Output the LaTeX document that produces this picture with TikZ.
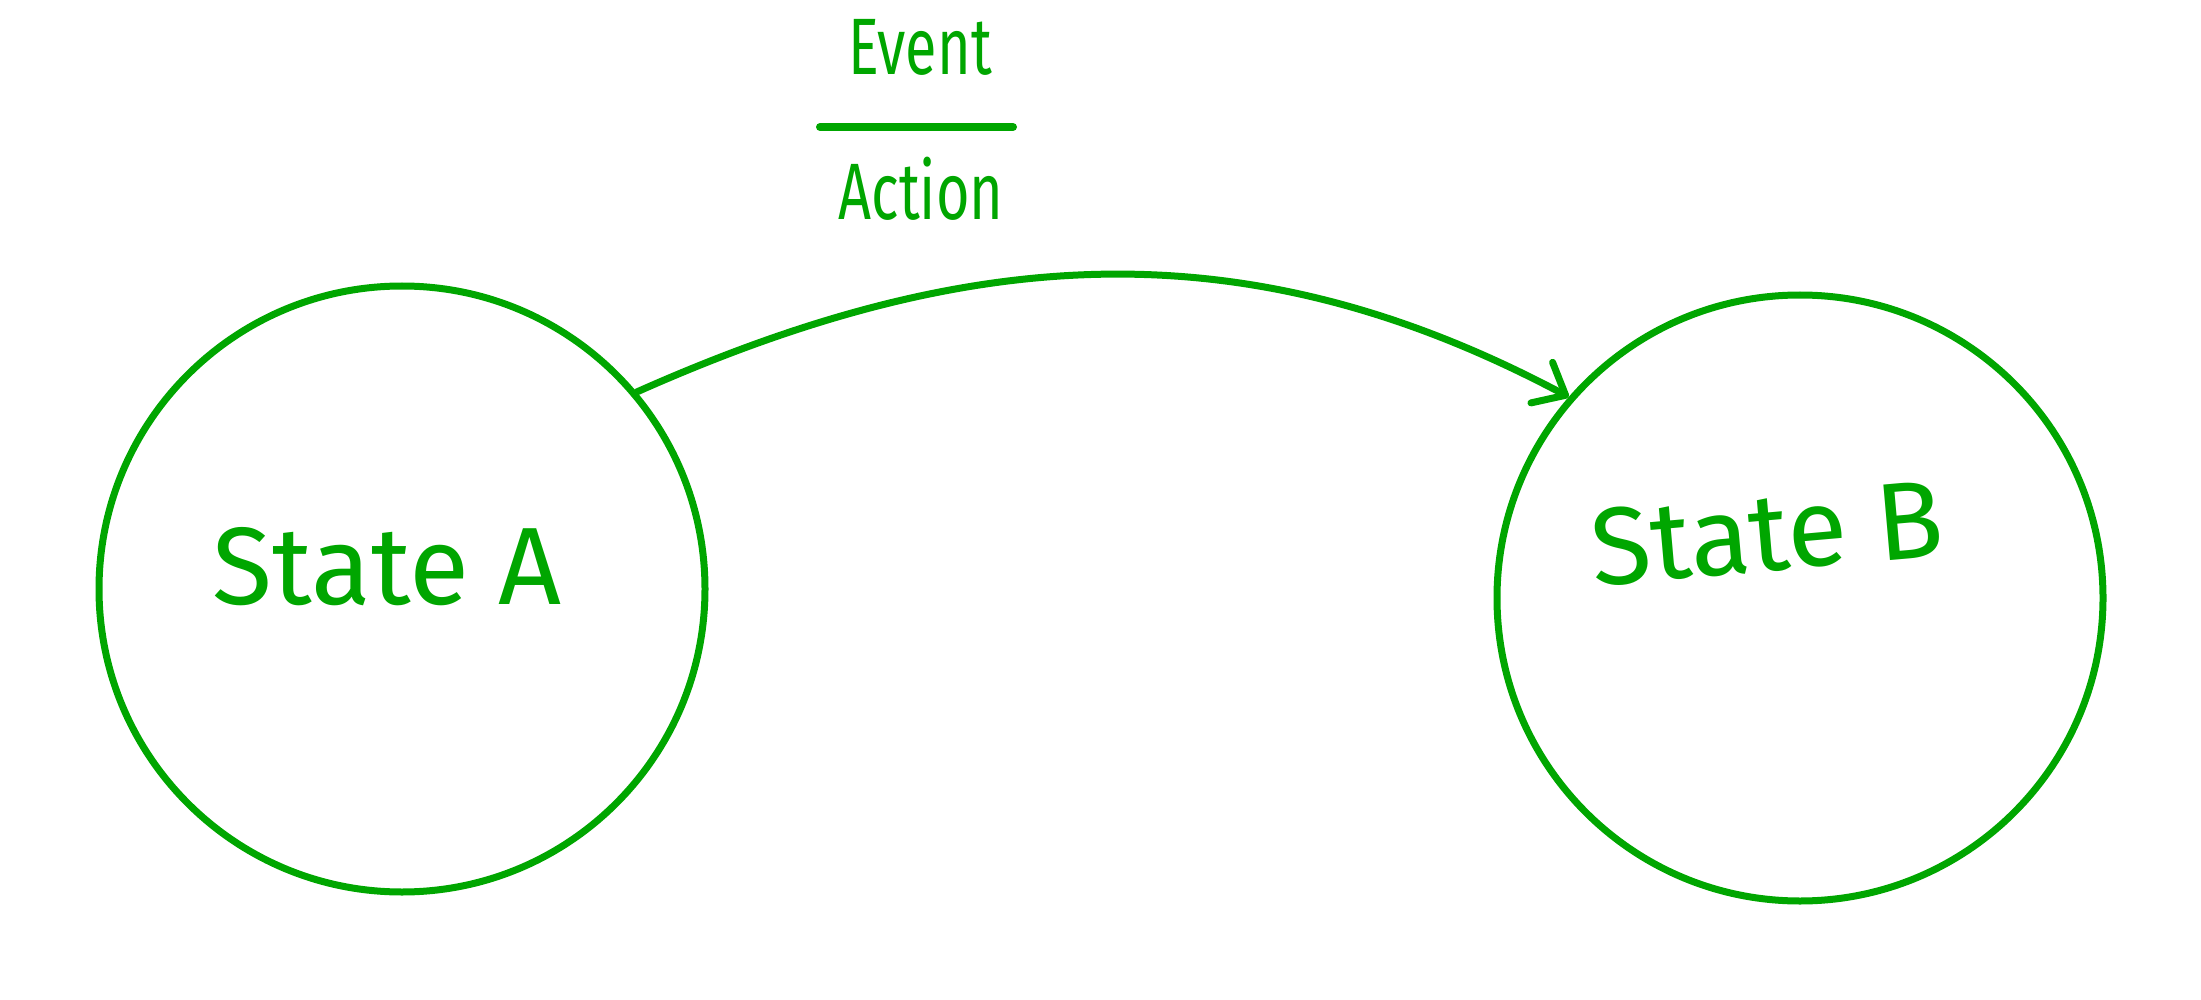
\documentclass[tikz,border=0pt]{standalone}
\usepackage{fontspec}
\setmainfont{Fira Sans}
\usetikzlibrary{arrows.meta}
\definecolor{penGreen}{RGB}{0,166,0}
\tikzset{
	statecircle/.style={circle, draw=penGreen, line width=7pt, minimum size=606pt, inner sep=0pt},
	statelabel/.style={text=penGreen, inner sep=0pt, font=\fontsize{110}{120}\selectfont},
	eventlabel/.style={text=penGreen, inner sep=0pt, font=\fontsize{80}{90}\selectfont},
	transition/.style={draw=penGreen, line width=7pt, line cap=round,
		-{Straight Barb[length=27pt, width=46pt, line cap=round, line join=round]}},
}
\newcommand{\narrow}[1]{\scalebox{0.72}[1]{#1}}

\begin{document}
\begin{tikzpicture}[x=1pt, y=1pt]
		%%%%% START %%%%%
		\useasboundingbox (0, 0) rectangle (2201, -1000);
		
		\node[statecircle] (stateA) at (402, -589) {};
		\node[statecircle] (stateB) at (1800, -598) {};
		
		\node[statelabel] (labelA) at (387, -567) {State A};
		\node[statelabel, rotate=5] (labelB) at (1767, -533) {State B};
		
		\node[eventlabel] (event) at (920, -47) {\narrow{Event}};
		\draw[penGreen, line width=8pt, line cap=round] (820, -127) -- (1013, -127);
		\node[eventlabel] (action) at (921, -189) {\narrow{Action}};
		
		\draw[transition] (stateA.40) to[out=24, in=152] (stateB.139);
		%%%%% END %%%%%
	\end{tikzpicture}
\end{document}
